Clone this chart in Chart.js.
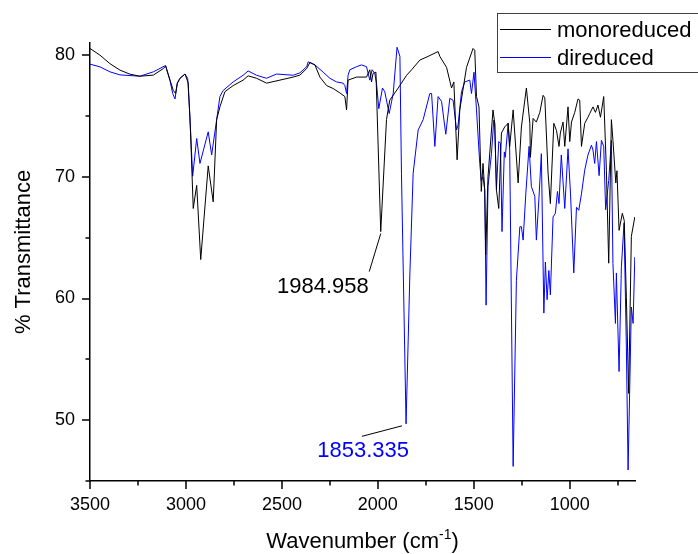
<!DOCTYPE html>
<html>
<head>
<meta charset="utf-8">
<script src="https://cdn.jsdelivr.net/npm/chart.js@4.4.0/dist/chart.umd.min.js"></script>
<style>
  html, body { margin: 0; padding: 0; background: #fff; }
  #wrap { width: 698px; height: 554px; }
</style>
</head>
<body>
<div id="wrap"><canvas id="irChart" width="698" height="554"></canvas></div>
<script>
// series names
const seriesNames = ['monoreduced', 'direduced'];
const seriesColors = ['#000000', '#0000ff'];

// monoreduced spectrum (wavenumber, %T)
const waveMono = [3500, 3448, 3396, 3344, 3292, 3240, 3170, 3118, 3106, 3083, 3066, 3054, 3045, 3031, 3005, 2988, 2976, 2962, 2944, 2923, 2884, 2858, 2840, 2823, 2797, 2754, 2702, 2676, 2632, 2580, 2510, 2441, 2406, 2371, 2354, 2328, 2302, 2267, 2233, 2198, 2172, 2163, 2155,
    2111, 2059, 2042, 2033, 2025, 2010, 1985, 1955, 1938, 1894, 1850, 1824, 1781, 1738, 1686, 1677, 1642, 1616, 1604, 1587, 1573, 1538, 1504, 1495, 1486, 1473, 1461, 1452, 1443, 1438, 1426, 1400, 1391, 1382, 1370, 1356, 1339, 1321, 1313, 1295, 1269, 1252, 1226, 1208, 1205, 1191, 1174, 1156, 1139, 1130, 1113, 1101, 1083, 1069, 1056, 1049, 1035, 1026, 1009, 1000, 991, 974, 957, 948, 939, 922, 905, 896, 879, 866, 853, 840, 823, 809, 797, 783, 775, 760, 754, 743, 726, 716, 705, 693, 679, 661];
const transMono = [80.55, 80.0, 79.3, 78.77, 78.44, 78.27, 78.36, 78.9, 79.1, 77.95, 77.1, 76.85, 77.7, 78.1, 78.45, 77.7, 73.6, 67.4, 69.3, 63.2, 70.9, 67.95, 74.7, 75.75, 77.0, 77.5, 77.95, 78.3, 78.1, 77.7, 77.95, 78.2, 78.36, 78.9, 79.4, 79.2, 78.2, 77.5, 77.26, 76.9, 76.6, 75.5, 77.95,
    78.2, 78.2, 78.8, 77.8, 78.5, 78.6, 65.5, 74.7, 76.3, 77.3, 78.35, 78.8, 79.6, 79.9, 80.3, 79.9, 79.0, 77.3, 77.8, 71.4, 75.5, 79.0, 80.55, 80.4, 76.6, 75.75, 68.8, 71.1, 68.9, 63.6, 70.0, 75.5, 74.4, 68.9, 67.4, 73.6, 74.1, 74.4, 72.5, 75.5, 69.5, 74.1, 77.3, 74.4, 71.6, 74.8, 74.5, 75.3, 76.7, 76.5, 70.3, 67.8, 74.4, 73.8, 72.5, 73.6, 74.5, 72.5, 75.75, 72.9, 74.5, 75.3, 76.4, 76.3, 72.5, 74.4, 74.9, 75.2, 75.75, 75.3, 75.9, 74.9, 76.6, 70.5, 62.9, 74.7, 73.0, 69.5, 70.5, 65.6, 67.0, 66.4, 60.1, 52.2, 65.1, 66.7];

// direduced spectrum (wavenumber, %T)
const waveDi = [3500, 3448, 3396, 3344, 3240, 3170, 3106, 3083, 3069, 3057, 3045, 3031, 3005, 2991, 2979, 2965, 2944, 2927, 2884, 2866, 2823, 2806, 2754, 2702, 2676, 2632, 2580, 2528, 2441, 2406, 2371, 2363, 2328, 2285, 2250, 2215, 2181, 2172, 2163, 2155,
    2146, 2111, 2085, 2059, 2042, 2030, 2016, 2007, 1995, 1976, 1964, 1941, 1920, 1900, 1885, 1877, 1853, 1833, 1816, 1790, 1764, 1729, 1720, 1703, 1686, 1668, 1646, 1625, 1608, 1590, 1582, 1564, 1547, 1521, 1512, 1499, 1486, 1469, 1461, 1452, 1443, 1436, 1426, 1408, 1396, 1391, 1382, 1370, 1361, 1353, 1341, 1336, 1321, 1313, 1295, 1278, 1260, 1252, 1243, 1229, 1212, 1200, 1182, 1174, 1161, 1148, 1135, 1127, 1118, 1109, 1101, 1087, 1075, 1064, 1056, 1044, 1026, 1009, 996, 979, 965, 953, 939, 922, 905, 887, 879, 870, 861, 847, 835, 823, 813, 797, 783, 775, 762, 757, 743, 731, 717, 705, 696, 679, 670, 661];
const transDi = [79.26, 79.04, 78.63, 78.38, 78.27, 78.63, 79.15, 77.9, 76.85, 76.4, 77.7, 78.1, 78.45, 78.1, 74.9, 70.05, 73.15, 71.1, 73.7, 71.8, 76.6, 77.1, 77.8, 78.35, 78.7, 78.35, 78.1, 78.45, 78.35, 78.55, 79.05, 79.45, 79.2, 78.6, 78.1, 77.8, 77.7, 77.5, 76.85, 78.35,
    78.8, 79.05, 79.2, 79.05, 77.95, 78.8, 78.5, 77.7, 75.6, 77.3, 77.0, 75.2, 76.85, 80.65, 79.9, 70.3, 49.7, 62.1, 70.3, 73.85, 74.7, 76.85, 76.85, 72.5, 76.6, 76.2, 73.5, 76.45, 76.3, 73.85, 74.25, 77.0, 77.8, 77.95, 76.85, 78.6, 75.5, 71.1, 69.7, 70.0, 68.9, 59.45, 69.2, 71.9, 74.65, 74.4, 68.9, 72.9, 72.75, 65.5, 72.05, 71.6, 74.4, 72.2, 46.2, 61.5, 65.9, 65.9, 64.8, 68.6, 72.5, 69.2, 68.4, 64.8, 68.1, 71.9, 58.8, 63.0, 59.9, 62.3, 60.3, 66.7, 67.0, 68.8, 67.8, 71.8, 67.4, 72.3, 68.6, 62.1, 67.5, 67.25, 68.6, 70.55, 71.8, 72.6, 72.2, 71.1, 72.9, 70.1, 73.0, 72.5, 67.3, 69.7, 73.0, 62.9, 57.95, 62.1, 54.0, 62.6, 66.2, 56.0, 45.9, 59.3, 57.95, 63.4];

// axis ticks
const xTicks = [3500, 3250, 3000, 2750, 2500, 2250, 2000, 1750, 1500, 1250, 1000, 750];
const yTicks = [45, 50, 55, 60, 65, 70, 75, 80];

// labelled peaks
const peakWave = [1984.958, 1853.335];
const peakTrans = [65.5, 49.7];
const peakColor = ['#000000', '#0000ff'];

const FONT = "'Liberation Sans', Arial, sans-serif";

function toPoints(xs, ys) {
    return xs.map((v, i) => ({ x: v, y: ys[i] }));
}

// axis ticks, titles, legend, peak labels
const extrasPlugin = {
    id: 'extras',
    afterDraw(chart) {
        const { ctx, chartArea: a, scales: { x, y } } = chart;
        ctx.save();
        ctx.strokeStyle = '#000';
        ctx.lineWidth = 1.5;
        ctx.beginPath();
        xTicks.forEach(v => {
            const px = Math.round(x.getPixelForValue(v));
            const len = v % 500 === 0 ? 8 : 4.5;
            ctx.moveTo(px, a.bottom);
            ctx.lineTo(px, a.bottom + len);
        });
        yTicks.forEach(v => {
            const py = Math.round(y.getPixelForValue(v));
            const len = v % 10 === 0 ? 8 : 4.5;
            ctx.moveTo(a.left, py);
            ctx.lineTo(a.left - len, py);
        });
        ctx.stroke();

        // x title with superscript
        ctx.fillStyle = '#000';
        ctx.textBaseline = 'alphabetic';
        ctx.textAlign = 'left';
        const big = '22px ' + FONT, small = '14px ' + FONT;
        const p1 = 'Wavenumber (cm', p2 = '-1', p3 = ')';
        ctx.font = big; const w1 = ctx.measureText(p1).width, w3 = ctx.measureText(p3).width;
        ctx.font = small; const w2 = ctx.measureText(p2).width;
        let tx = (a.left + a.right) / 2 - (w1 + w2 + w3) / 2;
        const ty = 548;
        ctx.font = big; ctx.fillText(p1, tx, ty); tx += w1;
        ctx.font = small; ctx.fillText(p2, tx, ty - 9); tx += w2;
        ctx.font = big; ctx.fillText(p3, tx, ty);

        // y title
        ctx.save();
        ctx.translate(30, 252);
        ctx.rotate(-Math.PI / 2);
        ctx.textAlign = 'center';
        ctx.font = big;
        ctx.fillText('% Transmittance', 0, 0);
        ctx.restore();

        // legend
        ctx.lineWidth = 1;
        ctx.strokeStyle = '#404040';
        ctx.strokeRect(497.5, 13.5, 230, 59);
        ctx.font = big;
        ctx.textBaseline = 'middle';
        chart.data.datasets.forEach((ds, i) => {
            const ly = 29.5 + i * 28;
            ctx.strokeStyle = ds.borderColor;
            ctx.beginPath();
            ctx.moveTo(500, ly);
            ctx.lineTo(551, ly);
            ctx.stroke();
            ctx.fillStyle = '#000';
            ctx.fillText(ds.label, 557, ly + 1);
        });

        // peak labels
        ctx.textBaseline = 'alphabetic';
        ctx.textAlign = 'right';
        ctx.lineWidth = 1;
        ctx.strokeStyle = '#000';
        const offs = [
            { lx0: 0, ly0: 2, lx1: -11.5, ly1: 40, tx: -12, ty: 61.5 },
            { lx0: -4, ly0: 2, lx1: -44, ly1: 12.5, tx: 3, ty: 33.5 }
        ];
        peakWave.forEach((w, i) => {
            const px = x.getPixelForValue(w);
            const py = y.getPixelForValue(peakTrans[i]);
            const o = offs[i];
            ctx.beginPath();
            ctx.moveTo(px + o.lx0, py + o.ly0);
            ctx.lineTo(px + o.lx1, py + o.ly1);
            ctx.stroke();
            ctx.fillStyle = peakColor[i];
            ctx.fillText(w.toFixed(3), px + o.tx, py + o.ty);
        });
        ctx.restore();
    }
};

new Chart(document.getElementById('irChart'), {
    type: 'line',
    data: {
        datasets: [
            {
                label: seriesNames[0],
                data: toPoints(waveMono, transMono),
                borderColor: seriesColors[0],
                borderWidth: 1,
                pointRadius: 0,
                tension: 0,
                fill: false
            },
            {
                label: seriesNames[1],
                data: toPoints(waveDi, transDi),
                borderColor: seriesColors[1],
                borderWidth: 1,
                pointRadius: 0,
                tension: 0,
                fill: false
            }
        ]
    },
    options: {
        responsive: false,
        animation: false,
        layout: { padding: { top: 43, right: 63, bottom: 0, left: 0 } },
        scales: {
            x: {
                type: 'linear',
                reverse: true,
                min: 660,
                max: 3500,
                afterBuildTicks: s => { s.ticks = xTicks.map(v => ({ value: v })); },
                afterFit: s => { s.height = 73; },
                grid: { display: false, drawTicks: false },
                border: { display: true, color: '#000', width: 1.5 },
                ticks: {
                    autoSkip: false,
                    maxRotation: 0,
                    padding: 13,
                    color: '#000',
                    font: { family: FONT, size: 18 },
                    callback: v => (v % 500 === 0 ? String(v) : '')
                }
            },
            y: {
                min: 45,
                max: 81,
                afterBuildTicks: s => { s.ticks = yTicks.map(v => ({ value: v })); },
                afterFit: s => { s.width = 90; },
                grid: { display: false, drawTicks: false },
                border: { display: true, color: '#000', width: 1.5 },
                ticks: {
                    padding: 15,
                    color: '#000',
                    font: { family: FONT, size: 18 },
                    callback: v => (v % 10 === 0 ? String(v) : '')
                }
            }
        },
        plugins: {
            legend: { display: false },
            tooltip: { enabled: false }
        }
    },
    plugins: [extrasPlugin]
});
</script>
</body>
</html>
